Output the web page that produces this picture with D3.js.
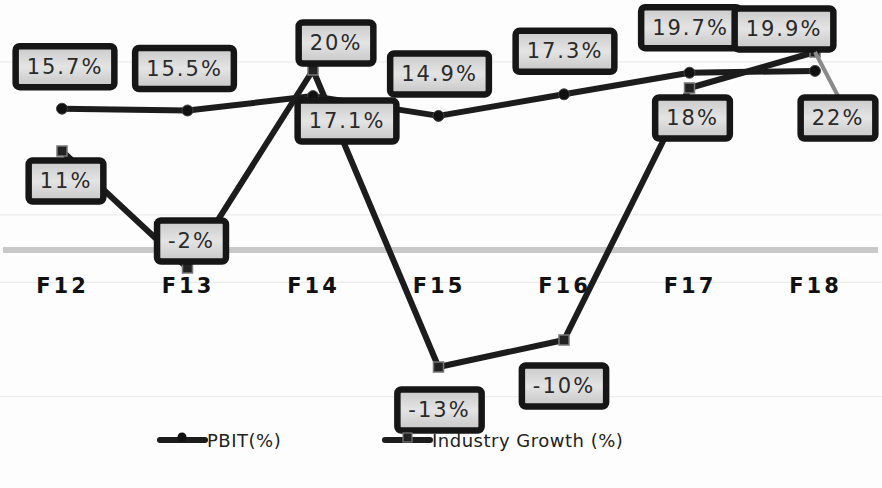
<!DOCTYPE html>
<html>
<head>
<meta charset="utf-8">
<script src="https://cdn.jsdelivr.net/npm/d3@7/dist/d3.min.js"></script>
<style>
  html, body { margin: 0; padding: 0; background: #fdfdfd; }
  svg { display: block; }
</style>
</head>
<body>
<svg id="chart" width="882" height="488"></svg>
<script>
// Fiscal years on the x axis
const categories = ["F12", "F13", "F14", "F15", "F16", "F17", "F18"];
// PBIT margin, %
const pbit = [15.7, 15.5, 17.1, 14.9, 17.3, 19.7, 19.9];
// Industry growth, %
const industryGrowth = [11, -2, 20, -13, -10, 18, 22];
// Faint horizontal guide lines, in % units
const gridValues = [20.9, 3.9, -3.6, -16.3];

// Label placement relative to each point, [dx, dy] in px
const pbitLabelOffset = [[3, -42], [-3, -42], [34, 25], [1, -42], [1, -43], [1, -45], [-31, -42]];
const growthLabelOffset = [[4, 30], [4, -27], [23, -27], [1, 43], [0, 46], [3, 30], [23, 66]];

const W = 882, H = 488;
const svg = d3.select("#chart");

const x = d3.scalePoint().domain(categories).range([62, 815]);
const y = d3.scaleLinear().domain([-25, 25]).range([475, 25]);

const defs = svg.append("defs");
const grad = defs.append("linearGradient").attr("id", "boxFill")
  .attr("x1", 0).attr("y1", 0).attr("x2", 0).attr("y2", 1);
grad.append("stop").attr("offset", "0%").attr("stop-color", "#c9c9c9");
grad.append("stop").attr("offset", "50%").attr("stop-color", "#e4e4e4");
grad.append("stop").attr("offset", "100%").attr("stop-color", "#c6c6c6");

const shadow = defs.append("filter").attr("id", "soft").attr("x", "-10%").attr("y", "-10%")
  .attr("width", "120%").attr("height", "130%");
shadow.append("feGaussianBlur").attr("stdDeviation", 0.6);

// guide lines
svg.append("g").selectAll("line").data(gridValues).join("line")
  .attr("x1", 0).attr("x2", W)
  .attr("y1", d => y(d)).attr("y2", d => y(d))
  .attr("stroke", "#ececec").attr("stroke-width", 1.2);

// zero baseline
svg.append("line")
  .attr("x1", 3).attr("x2", 878)
  .attr("y1", y(0)).attr("y2", y(0))
  .attr("stroke", "#c9c9c9").attr("stroke-width", 6);

// category axis labels
const xAxis = d3.axisBottom(x).tickSize(0).tickPadding(0);
const gx = svg.append("g").attr("transform", `translate(0, ${y(0) + 28})`).call(xAxis);
gx.select(".domain").remove();
gx.selectAll("text")
  .attr("font-family", "DejaVu Sans, sans-serif")
  .attr("font-weight", "bold")
  .attr("font-size", 21)
  .attr("letter-spacing", 3)
  .attr("fill", "#111");

const line = d3.line().x((d, i) => x(categories[i])).y(d => y(d));

// PBIT series
svg.append("path").datum(pbit)
  .attr("d", line).attr("fill", "none")
  .attr("stroke", "#1c1c1c").attr("stroke-width", 6)
  .attr("stroke-linejoin", "round").attr("filter", "url(#soft)");
svg.append("g").selectAll("circle").data(pbit).join("circle")
  .attr("cx", (d, i) => x(categories[i])).attr("cy", d => y(d))
  .attr("r", 5.5).attr("fill", "#111").attr("stroke", "#444").attr("stroke-width", 1);

// Industry growth series
svg.append("path").datum(industryGrowth)
  .attr("d", line).attr("fill", "none")
  .attr("stroke", "#1c1c1c").attr("stroke-width", 6)
  .attr("stroke-linejoin", "round").attr("filter", "url(#soft)");
svg.append("g").selectAll("rect").data(industryGrowth).join("rect")
  .attr("x", (d, i) => x(categories[i]) - 5).attr("y", d => y(d) - 5)
  .attr("width", 10).attr("height", 10)
  .attr("fill", "#222").attr("stroke", "#777").attr("stroke-width", 1.5);

// value labels
function drawLabels(values, offsets) {
  values.forEach((v, i) => {
    const px = x(categories[i]), py = y(v);
    const cx = px + offsets[i][0], cy = py + offsets[i][1];
    const g = svg.append("g");
    if (Math.abs(offsets[i][1]) > 55) {
      g.append("line")
        .attr("x1", px).attr("y1", py)
        .attr("x2", cx).attr("y2", cy - 22)
        .attr("stroke", "#8a8a8a").attr("stroke-width", 4);
    }
    const t = g.append("text")
      .attr("x", cx).attr("y", cy)
      .attr("text-anchor", "middle").attr("dominant-baseline", "central")
      .attr("font-family", "DejaVu Sans, sans-serif")
      .attr("font-size", 21).attr("letter-spacing", 2)
      .attr("fill", "#2a2a2a")
      .text(v + "%");
    const bb = t.node().getBBox();
    const bw = bb.width + 22, bh = 41;
    g.insert("rect", "text")
      .attr("x", cx - bw / 2).attr("y", cy - bh / 2)
      .attr("width", bw).attr("height", bh)
      .attr("rx", 4)
      .attr("fill", "url(#boxFill)")
      .attr("stroke", "#161616").attr("stroke-width", 6.5);
  });
}
drawLabels(pbit, pbitLabelOffset);
drawLabels(industryGrowth, growthLabelOffset);

// legend
const legendItems = [
  { name: "PBIT(%)", x0: 160, marker: "circle" },
  { name: "Industry Growth (%)", x0: 385, marker: "rect" }
];
const ly = 440;
legendItems.forEach(it => {
  const g = svg.append("g");
  g.append("line")
    .attr("x1", it.x0).attr("x2", it.x0 + 45)
    .attr("y1", ly).attr("y2", ly)
    .attr("stroke", "#1c1c1c").attr("stroke-width", 6).attr("stroke-linecap", "round");
  if (it.marker === "circle") {
    g.append("circle").attr("cx", it.x0 + 22).attr("cy", ly - 3).attr("r", 4.5).attr("fill", "#111");
  } else {
    g.append("rect").attr("x", it.x0 + 18).attr("y", ly - 7).attr("width", 9).attr("height", 9)
      .attr("fill", "#222").attr("stroke", "#777").attr("stroke-width", 1.2);
  }
  g.append("text")
    .attr("x", it.x0 + 47).attr("y", ly + 7)
    .attr("font-family", "DejaVu Sans, sans-serif")
    .attr("font-size", 18).attr("letter-spacing", 0.5)
    .attr("fill", "#222")
    .text(it.name);
});
</script>
</body>
</html>
